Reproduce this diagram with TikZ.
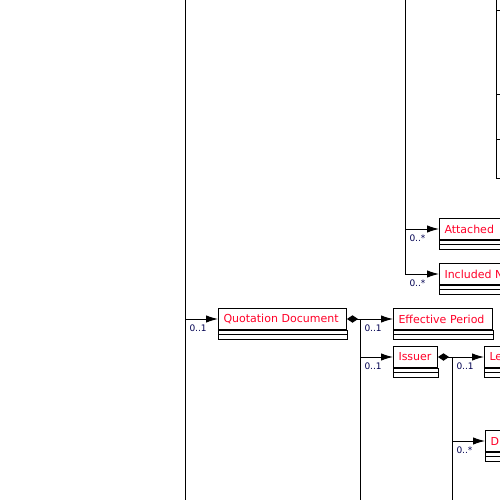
\documentclass[tikz,border=0pt]{standalone}
\usepackage{fontspec}
\setmainfont{DejaVu Sans}
\usetikzlibrary{arrows.meta}
\definecolor{clsname}{RGB}{255,0,40}
\definecolor{multcol}{RGB}{0,0,80}
% class box: name, x, y (top left), text width, label
\newcommand\umlclass[5]{%
  \node[clsbox, text width=#4] (#1) at (#2,#3) {#5};
  \draw (#1.south west) rectangle ([yshift=-9pt]#1.south east);
  \draw ([yshift=-4.5pt]#1.south west) -- ([yshift=-4.5pt]#1.south east);
}
\begin{document}
\begin{tikzpicture}[x=1pt,y=-1pt,line width=1pt,
  clsbox/.style={draw, fill=white, anchor=north west, minimum height=21pt,
    inner xsep=5pt, inner ysep=0pt, align=left, text=clsname,
    font=\fontsize{11}{13}\selectfont},
  tip/.tip={Latex[length=12pt,width=7.5pt]},
  assoc/.style={-tip},
  comp/.style={{Diamond[length=11pt,width=7.5pt]}-tip},
  multlbl/.style={anchor=north west, inner sep=0pt, text=multcol,
    font=\fontsize{9}{10}\selectfont}]
\useasboundingbox (0,0) rectangle (500,500);
\clip (0,0) rectangle (500,500);

% partially visible class at the top right
\draw (496,-5) rectangle (540,178);
\draw (496,11) -- (540,11);
\draw (496,95) -- (540,95);
\draw (496,139) -- (540,139);

% classes
\umlclass{qd}{218}{308}{118pt}{Quotation Document}
\umlclass{ep}{393}{308}{89pt}{Effective Period}
\umlclass{is}{393}{346}{34pt}{Issuer}
\umlclass{le}{484}{346}{90pt}{Le}
\umlclass{dd}{485}{430}{90pt}{D}
\umlclass{at}{439}{218}{90pt}{Attached}
\umlclass{in}{439}{263}{90pt}{Included N}

% vertical connector trunks
\coordinate (ta) at (185,0);   \coordinate (ba) at (185,500);
\coordinate (tb) at (405,0);   \coordinate (bb) at (405,274);
\coordinate (tc) at (360,319); \coordinate (bc) at (360,500);
\coordinate (td) at (452,357); \coordinate (bd) at (452,500);
\draw (ta) -- (ba);
\draw (tb) -- (bb);
\draw (tc) -- (bc);
\draw (td) -- (bd);

% branches
\coordinate (qa) at (qd.west -| ta);
\draw[assoc] (qa) -- (qd.west);
\node[multlbl] at ([xshift=4pt,yshift=-5pt]qa) {0..1};

\draw[comp] (qd.east) -- (ep.west);
\node[multlbl] at ([xshift=4pt,yshift=-5pt]tc) {0..1};

\coordinate (ia) at (is.west -| tc);
\draw[assoc] (ia) -- (is.west);
\node[multlbl] at ([xshift=4pt,yshift=-5pt]ia) {0..1};

\draw[comp] (is.east) -- (le.west);
\node[multlbl] at ([xshift=4pt,yshift=-5pt]td) {0..1};

\coordinate (da) at (dd.west -| td);
\draw[assoc] (da) -- (dd.west);
\node[multlbl] at ([xshift=4pt,yshift=-5pt]da) {0..*};

\coordinate (aa) at (at.west -| tb);
\draw[assoc] (aa) -- (at.west);
\node[multlbl] at ([xshift=4pt,yshift=-5pt]aa) {0..*};

\draw[assoc] (bb) -- (in.west);
\node[multlbl] at ([xshift=4pt,yshift=-5pt]bb) {0..*};
\end{tikzpicture}
\end{document}
